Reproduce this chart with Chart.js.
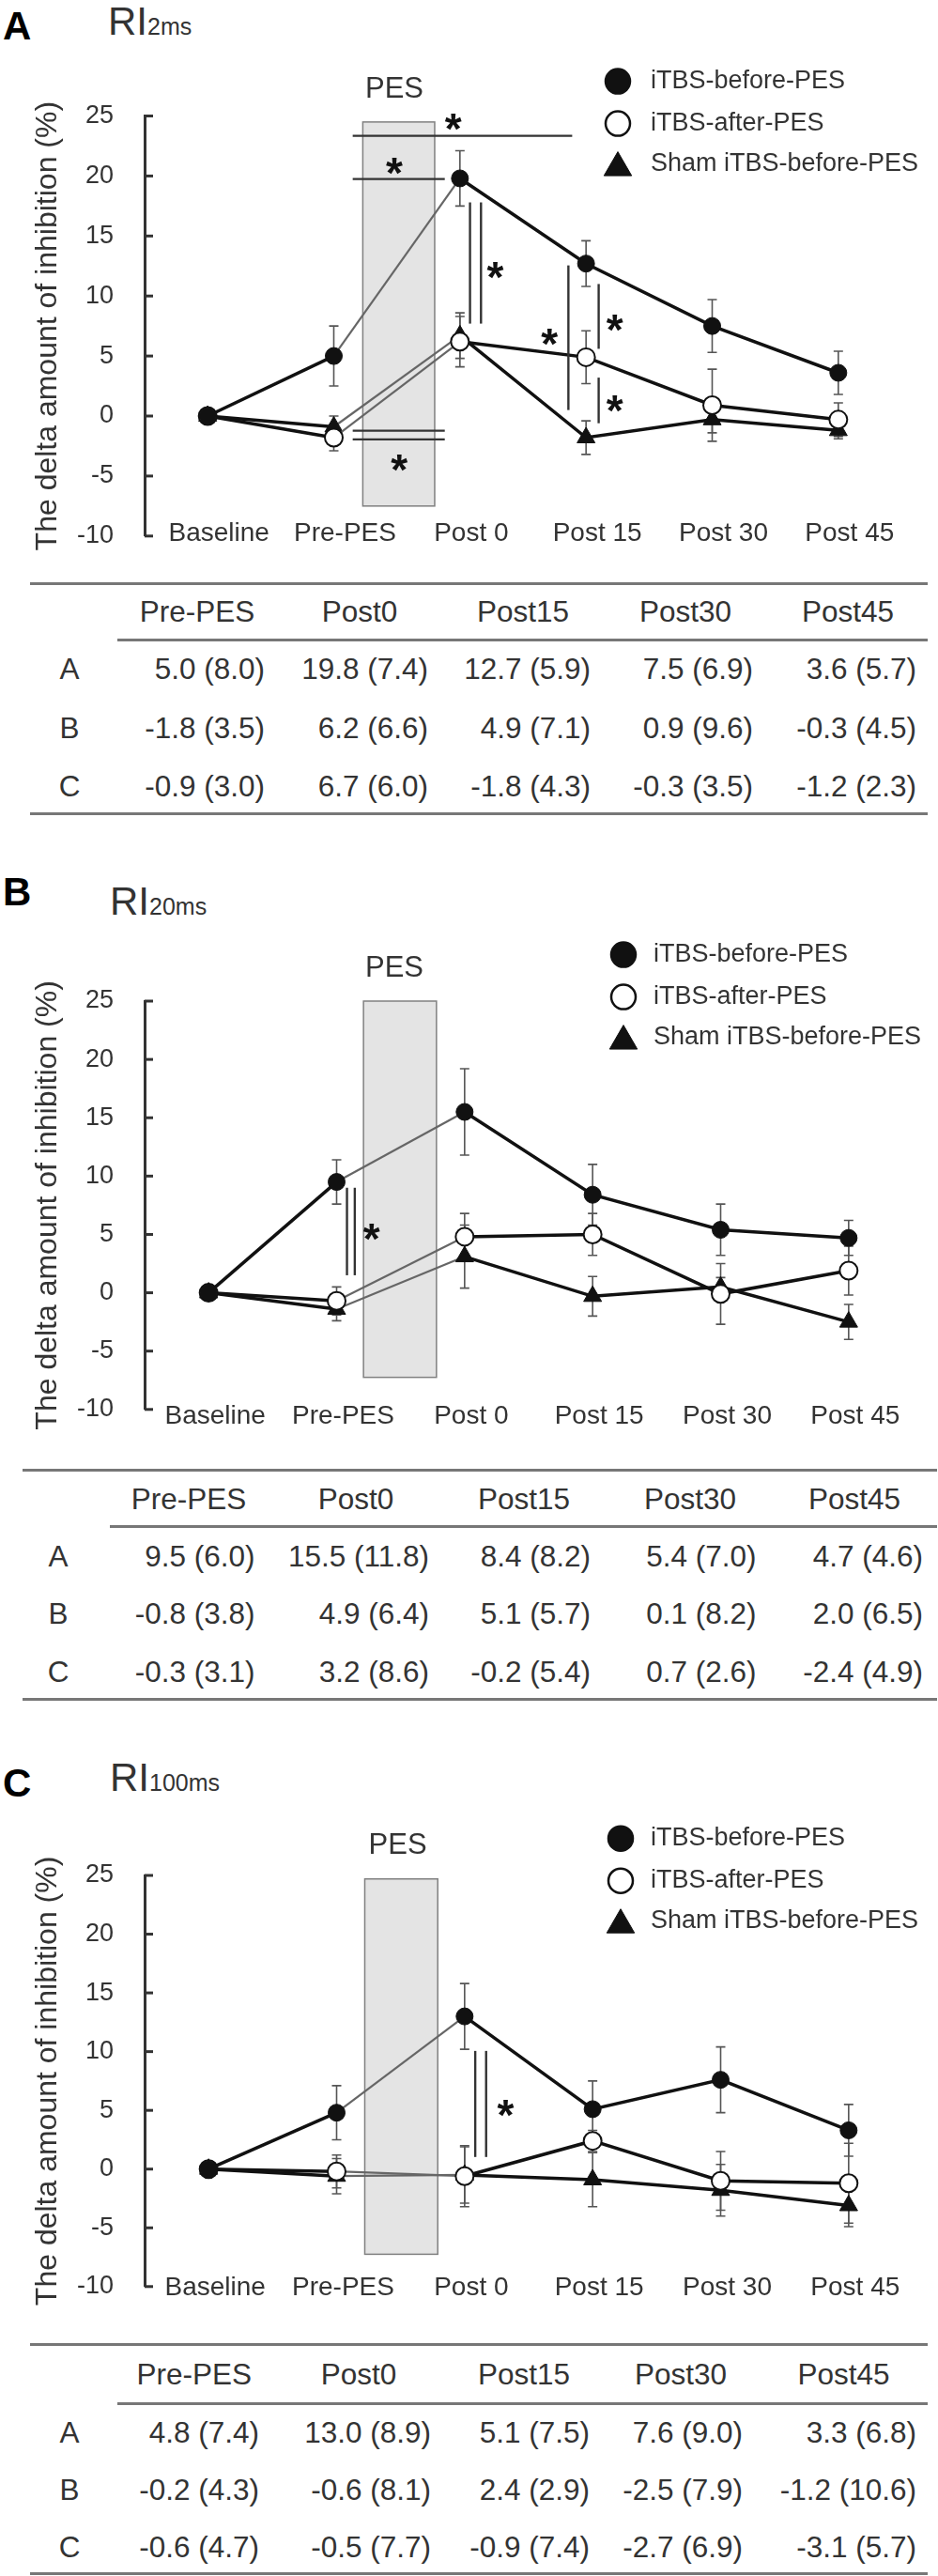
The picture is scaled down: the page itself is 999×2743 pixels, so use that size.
<!DOCTYPE html>
<html>
<head>
<meta charset="utf-8">
<script src="https://cdn.jsdelivr.net/npm/chart.js@4.4.1/dist/chart.umd.min.js"></script>
<style>
  html, body { margin: 0; padding: 0; background: #fff; }
  body { position: relative; width: 999px; height: 2743px; overflow: hidden;
         font-family: "Liberation Sans", Arial, sans-serif; color: #333; }
  canvas { position: absolute; left: 0; }
  .t { position: absolute; white-space: nowrap; }
  .ln { position: absolute; background: #777; height: 3px; }
</style>
</head>
<body>
<script>
// ---------------- DATA ----------------
const categories = ['Baseline', 'Pre-PES', 'Post 0', 'Post 15', 'Post 30', 'Post 45'];
const seriesLabels = ['iTBS-before-PES', 'iTBS-after-PES', 'Sham iTBS-before-PES'];
const yMin = -10, yMax = 25, yStep = 5;
const yTitle = 'The delta amount of inhibition (%)';

// Panel A : RI2ms
const ri2Before    = [0, 5.0, 19.8, 12.7, 7.5, 3.6];
const ri2After     = [0, -1.8, 6.2, 4.9, 0.9, -0.3];
const ri2Sham      = [0, -0.9, 6.7, -1.8, -0.3, -1.2];
const ri2BeforeErr = [0, 2.5, 2.3, 1.9, 2.2, 1.8];
const ri2AfterErr  = [0, 1.1, 2.1, 2.2, 3.0, 1.4];
const ri2ShamErr   = [0, 0.9, 1.9, 1.4, 1.1, 0.7];

// Panel B : RI20ms
const ri20Before    = [0, 9.5, 15.5, 8.4, 5.4, 4.7];
const ri20After     = [0, -0.7, 4.8, 5.0, -0.1, 1.9];
const ri20Sham      = [0, -1.4, 3.1, -0.3, 0.5, -2.5];
const ri20BeforeErr = [0, 1.9, 3.7, 2.6, 2.2, 1.5];
const ri20AfterErr  = [0, 1.2, 2.0, 1.8, 2.6, 2.1];
const ri20ShamErr   = [0, 1.0, 2.7, 1.7, 0.8, 1.5];

// Panel C : RI100ms
const ri100Before    = [0, 4.8, 13.0, 5.1, 7.6, 3.3];
const ri100After     = [0, -0.2, -0.6, 2.4, -1.0, -1.2];
const ri100Sham      = [0, -0.6, -0.5, -0.9, -1.8, -3.1];
const ri100BeforeErr = [0, 2.3, 2.8, 2.4, 2.8, 2.2];
const ri100AfterErr  = [0, 1.4, 2.6, 0.9, 2.5, 3.4];
const ri100ShamErr   = [0, 1.5, 2.4, 2.3, 2.2, 1.8];

// Tables
const tableHeaders  = ['Pre-PES', 'Post0', 'Post15', 'Post30', 'Post45'];
const tableRowNames = ['A', 'B', 'C'];
const ri2TableA   = ['5.0 (8.0)', '19.8 (7.4)', '12.7 (5.9)', '7.5 (6.9)', '3.6 (5.7)'];
const ri2TableB   = ['-1.8 (3.5)', '6.2 (6.6)', '4.9 (7.1)', '0.9 (9.6)', '-0.3 (4.5)'];
const ri2TableC   = ['-0.9 (3.0)', '6.7 (6.0)', '-1.8 (4.3)', '-0.3 (3.5)', '-1.2 (2.3)'];
const ri20TableA  = ['9.5 (6.0)', '15.5 (11.8)', '8.4 (8.2)', '5.4 (7.0)', '4.7 (4.6)'];
const ri20TableB  = ['-0.8 (3.8)', '4.9 (6.4)', '5.1 (5.7)', '0.1 (8.2)', '2.0 (6.5)'];
const ri20TableC  = ['-0.3 (3.1)', '3.2 (8.6)', '-0.2 (5.4)', '0.7 (2.6)', '-2.4 (4.9)'];
const ri100TableA = ['4.8 (7.4)', '13.0 (8.9)', '5.1 (7.5)', '7.6 (9.0)', '3.3 (6.8)'];
const ri100TableB = ['-0.2 (4.3)', '-0.6 (8.1)', '2.4 (2.9)', '-2.5 (7.9)', '-1.2 (10.6)'];
const ri100TableC = ['-0.6 (4.7)', '-0.5 (7.7)', '-0.9 (7.4)', '-2.7 (6.9)', '-3.1 (5.7)'];

// PES period boxes (category index / data value)
const ri2Pes   = { x0: 1.23, x1: 1.80, y0: 24.5, y1: -7.5 };
const ri20Pes  = { x0: 1.21, x1: 1.78, y0: 25.0, y1: -7.25 };
const ri100Pes = { x0: 1.22, x1: 1.79, y0: 24.7, y1: -7.25 };

// Significance brackets (category index / data value)
const ri2Sig = [
  { h: 23.35, x0: 1.15, x1: 2.89 },
  { h: 19.75, x0: 1.15, x1: 1.88 },
  { h: -1.22, x0: 1.15, x1: 1.88 },
  { h: -1.95, x0: 1.15, x1: 1.88 },
  { v: 2.08, y0: 17.8, y1: 7.7 },
  { v: 2.167, y0: 17.8, y1: 7.7 },
  { v: 2.86, y0: 12.55, y1: 0.5 },
  { v: 3.10, y0: 11.0, y1: 5.6 },
  { v: 3.10, y0: 3.2, y1: -0.6 }
];
const ri2Stars = [[1.947, 24.77], [1.48, 21.1], [1.518, -3.65], [2.28, 12.44], [2.71, 6.83], [3.227, 8.05], [3.227, 1.33]];
const ri20Sig = [
  { v: 1.081, y0: 9.0, y1: 1.5 },
  { v: 1.142, y0: 9.0, y1: 1.5 }
];
const ri20Stars = [[1.272, 5.49]];
const ri100Sig = [
  { v: 2.083, y0: 10.06, y1: 1.03 },
  { v: 2.168, y0: 10.06, y1: 1.03 }
];
const ri100Stars = [[2.32, 5.44]];

// ---------------- LAYOUT ----------------
const FONT = '"Liberation Sans", Arial, sans-serif';

const panels = [
  { id: 'A', sub: '2ms', canvasTop: 0, height: 620, top: 123.5, bottom: 584, right: 960,
    labelOffset: 12, labelDy: -3, legendX: 658, legendTextX: 693, legendY: [86.6, 131.6, 174.6],
    pesLabel: [420, 95],
    letter: [3, 43], ri: [115, 37.5],
    before: ri2Before, after: ri2After, sham: ri2Sham,
    beforeErr: ri2BeforeErr, afterErr: ri2AfterErr, shamErr: ri2ShamErr,
    pes: ri2Pes, sig: ri2Sig, stars: ri2Stars,
    table: { rows: [ri2TableA, ri2TableB, ri2TableC], top: 621, lineX0: 32, lineX1: 988, header: 651.5,
             headLine: 681.6, headLineX0: 125, rowY: [712.5, 775, 837.6], bottom: 866.5, rowLabelX: 74,
             rights: [282, 456, 629, 802, 976], heads: [210, 383, 557, 730, 903] } },
  { id: 'B', sub: '20ms', canvasTop: 930, height: 620, top: 136, bottom: 586, right: 972,
    labelOffset: 7, labelDy: 7.5, legendX: 664, legendTextX: 696, legendY: [86.6, 131.6, 174.6],
    pesLabel: [420, 101],
    letter: [3, 965], ri: [117, 975],
    before: ri20Before, after: ri20After, sham: ri20Sham,
    beforeErr: ri20BeforeErr, afterErr: ri20AfterErr, shamErr: ri20ShamErr,
    pes: ri20Pes, sig: ri20Sig, stars: ri20Stars,
    table: { rows: [ri20TableA, ri20TableB, ri20TableC], top: 1565.4, lineX0: 24, lineX1: 998, header: 1596,
             headLine: 1625, headLineX0: 117, rowY: [1657, 1718, 1780.4], bottom: 1809, rowLabelX: 62,
             rights: [271.5, 457, 629, 805.5, 983], heads: [201, 379, 558, 735, 910] } },
  { id: 'C', sub: '100ms', canvasTop: 1744, height: 740, top: 253, bottom: 713, right: 972,
    labelOffset: 7, labelDy: 1, legendX: 661, legendTextX: 693, legendY: [213.7, 258.7, 301.7],
    pesLabel: [423.6, 221.4],
    letter: [3, 1914], ri: [117, 1908],
    before: ri100Before, after: ri100After, sham: ri100Sham,
    beforeErr: ri100BeforeErr, afterErr: ri100AfterErr, shamErr: ri100ShamErr,
    pes: ri100Pes, sig: ri100Sig, stars: ri100Stars,
    table: { rows: [ri100TableA, ri100TableB, ri100TableC], top: 2496, lineX0: 32, lineX1: 988, header: 2528,
             headLine: 2559, headLineX0: 125, rowY: [2590, 2651, 2712], bottom: 2740, rowLabelX: 74,
             rights: [276, 459, 628, 791, 976], heads: [206.7, 382, 558, 725, 898.6] } }
];

// ---------------- HTML TEXT HELPERS ----------------
function addText(txt, opts) {
  const d = document.createElement('div');
  d.className = 't';
  d.textContent = txt;
  const s = opts.size;
  d.style.fontSize = s + 'px';
  d.style.lineHeight = s + 'px';
  if (opts.weight) d.style.fontWeight = opts.weight;
  if (opts.color) d.style.color = opts.color;
  const top = opts.baseline - 0.8465 * s;
  d.style.top = top + 'px';
  if (opts.align === 'right') {
    d.style.left = (opts.x - 400) + 'px'; d.style.width = '400px'; d.style.textAlign = 'right';
  } else if (opts.align === 'center') {
    d.style.left = (opts.x - 200) + 'px'; d.style.width = '400px'; d.style.textAlign = 'center';
  } else {
    d.style.left = opts.x + 'px';
  }
  document.body.appendChild(d);
  return d;
}
function addLine(x0, x1, y) {
  const d = document.createElement('div');
  d.className = 'ln';
  d.style.left = x0 + 'px'; d.style.width = (x1 - x0) + 'px'; d.style.top = (y - 1.5) + 'px';
  document.body.appendChild(d);
}
function addTitle(p) {
  addText(p.id, { x: p.letter[0], baseline: p.letter[1], size: 42, weight: 'bold', color: '#000' });
  const d = document.createElement('div');
  d.className = 't';
  d.style.left = p.ri[0] + 'px';
  d.style.fontSize = '42px';
  d.style.lineHeight = '42px';
  d.style.top = (p.ri[1] - 0.8465 * 42) + 'px';
  d.style.color = '#333';
  d.innerHTML = 'RI<span style="font-size:25px">' + p.sub + '</span>';
  document.body.appendChild(d);
}
function addTable(p) {
  const t = p.table, fs = 31.5, off = 0.358 * fs;
  addLine(t.lineX0, t.lineX1, t.top);
  addLine(t.headLineX0, t.lineX1, t.headLine);
  addLine(t.lineX0, t.lineX1, t.bottom);
  tableHeaders.forEach((h, i) => addText(h, { x: t.heads[i], baseline: t.header + off, size: fs, align: 'center' }));
  t.rows.forEach((row, r) => {
    addText(tableRowNames[r], { x: t.rowLabelX, baseline: t.rowY[r] + off, size: fs, align: 'center' });
    row.forEach((c, i) => addText(c, { x: t.rights[i], baseline: t.rowY[r] + off, size: fs, align: 'right' }));
  });
}

// ---------------- CHART HELPERS ----------------
function drawMarker(ctx, style, x, y, r, fill, stroke, lw) {
  ctx.beginPath();
  if (style === 'circle') {
    ctx.arc(x, y, r, 0, Math.PI * 2);
  } else {
    ctx.moveTo(x, y - r);
    ctx.lineTo(x + 0.866 * r, y + r / 2);
    ctx.lineTo(x - 0.866 * r, y + r / 2);
    ctx.closePath();
  }
  ctx.fillStyle = fill; ctx.fill();
  ctx.lineWidth = lw; ctx.strokeStyle = stroke; ctx.stroke();
}

function panelPlugin(p) {
  return {
    id: 'panel' + p.id,
    beforeDatasetsDraw(chart) {
      const { ctx, scales: { x, y } } = chart;
      ctx.save();
      // PES box
      const bx0 = x.getPixelForValue(p.pes.x0), bx1 = x.getPixelForValue(p.pes.x1);
      const by0 = y.getPixelForValue(p.pes.y0), by1 = y.getPixelForValue(p.pes.y1);
      ctx.fillStyle = '#e4e4e4';
      ctx.fillRect(bx0, by0, bx1 - bx0, by1 - by0);
      ctx.strokeStyle = '#808080'; ctx.lineWidth = 1.5;
      ctx.strokeRect(bx0, by0, bx1 - bx0, by1 - by0);
      // error bars
      ctx.strokeStyle = '#555'; ctx.lineWidth = 1.6;
      chart.data.datasets.forEach(ds => {
        ds.errors.forEach((e, i) => {
          if (!e) return;
          const px = x.getPixelForValue(i);
          const yt = y.getPixelForValue(ds.data[i] + e), yb = y.getPixelForValue(ds.data[i] - e);
          ctx.beginPath();
          ctx.moveTo(px, yt); ctx.lineTo(px, yb);
          ctx.moveTo(px - 5, yt); ctx.lineTo(px + 5, yt);
          ctx.moveTo(px - 5, yb); ctx.lineTo(px + 5, yb);
          ctx.stroke();
        });
      });
      ctx.restore();
    },
    afterDraw(chart) {
      const { ctx, chartArea, scales: { x, y } } = chart;
      ctx.save();
      // inward tick marks on y axis
      ctx.strokeStyle = '#333'; ctx.lineWidth = 3;
      y.ticks.forEach(t => {
        const py = y.getPixelForValue(t.value);
        ctx.beginPath(); ctx.moveTo(chartArea.left, py); ctx.lineTo(chartArea.left + 9, py); ctx.stroke();
      });
      // significance lines
      ctx.strokeStyle = '#333'; ctx.lineWidth = 2.4;
      p.sig.forEach(s => {
        ctx.beginPath();
        if (s.h !== undefined) {
          const py = y.getPixelForValue(s.h);
          ctx.moveTo(x.getPixelForValue(s.x0), py); ctx.lineTo(x.getPixelForValue(s.x1), py);
        } else {
          const px = x.getPixelForValue(s.v);
          ctx.moveTo(px, y.getPixelForValue(s.y0)); ctx.lineTo(px, y.getPixelForValue(s.y1));
        }
        ctx.stroke();
      });
      // stars
      ctx.fillStyle = '#111';
      ctx.font = 'bold 46px ' + FONT;
      ctx.textAlign = 'center'; ctx.textBaseline = 'alphabetic';
      p.stars.forEach(st => {
        ctx.fillText('*', x.getPixelForValue(st[0]), y.getPixelForValue(st[1]) + 0.58 * 46);
      });
      // PES label
      ctx.fillStyle = '#333';
      ctx.font = '31px ' + FONT;
      ctx.textBaseline = 'middle';
      ctx.fillText('PES', p.pesLabel[0], p.pesLabel[1]);
      // legend
      ctx.textAlign = 'left';
      ctx.font = '27px ' + FONT;
      chart.data.datasets.forEach((ds, i) => {
        const ly = p.legendY[i];
        if (ds.pointStyle === 'triangle') {
          drawMarker(ctx, 'triangle', p.legendX, ly + 4, 17, '#111', '#111', 1);
        } else {
          drawMarker(ctx, 'circle', p.legendX, ly, 13, ds.pointBackgroundColor, '#111', 2.5);
        }
        ctx.fillStyle = '#333';
        ctx.fillText(ds.label, p.legendTextX, ly);
      });
      ctx.restore();
    }
  };
}

function makeChart(p) {
  const cv = document.createElement('canvas');
  cv.width = 999; cv.height = p.height;
  cv.style.width = '999px'; cv.style.height = p.height + 'px';
  cv.style.top = p.canvasTop + 'px';
  document.body.appendChild(cv);

  const pesSeg = {
    borderColor: c => c.p0DataIndex === 1 ? '#666' : undefined,
    borderWidth: c => c.p0DataIndex === 1 ? 2.2 : undefined
  };
  const datasets = [
    { label: seriesLabels[0], data: p.before, errors: p.beforeErr,
      borderColor: '#111', borderWidth: 3.5, pointStyle: 'circle', pointRadius: 9,
      pointBackgroundColor: '#111', pointBorderColor: '#111', pointBorderWidth: 1, segment: pesSeg },
    { label: seriesLabels[1], data: p.after, errors: p.afterErr,
      borderColor: '#111', borderWidth: 3.5, pointStyle: 'circle', pointRadius: 9.5,
      pointBackgroundColor: '#fff', pointBorderColor: '#111', pointBorderWidth: 2, segment: pesSeg },
    { label: seriesLabels[2], data: p.sham, errors: p.shamErr,
      borderColor: '#111', borderWidth: 3.5, pointStyle: 'triangle', pointRadius: 11,
      pointBackgroundColor: '#111', pointBorderColor: '#111', pointBorderWidth: 1, segment: pesSeg }
  ];

  new Chart(cv, {
    type: 'line',
    data: { labels: categories, datasets },
    options: {
      responsive: false,
      animation: false,
      devicePixelRatio: 1,
      layout: { padding: { left: 32, top: p.top, right: 999 - p.right, bottom: p.height - p.bottom - 20 } },
      plugins: { legend: { display: false }, tooltip: { enabled: false }, title: { display: false } },
      elements: { line: { tension: 0, fill: false } },
      scales: {
        x: {
          offset: true,
          grid: { display: false, drawTicks: false },
          border: { display: false },
          ticks: { color: '#333', font: { size: 28, family: FONT }, mirror: true,
                   padding: -(p.labelDy + 16.8),
                   labelOffset: p.labelOffset, maxRotation: 0, autoSkip: false },
          afterFit: s => { s.height = 20; }
        },
        y: {
          min: yMin, max: yMax,
          ticks: { stepSize: yStep, padding: 33, color: '#333', font: { size: 27, family: FONT } },
          grid: { display: false, drawTicks: false },
          border: { display: true, color: '#333', width: 3 },
          title: { display: true, text: yTitle, color: '#333', font: { size: 32, family: FONT }, padding: 0 },
          afterFit: s => { s.width = 122; }
        }
      }
    },
    plugins: [panelPlugin(p)]
  });
}

panels.forEach(p => { addTitle(p); makeChart(p); addTable(p); });
</script>
</body>
</html>
